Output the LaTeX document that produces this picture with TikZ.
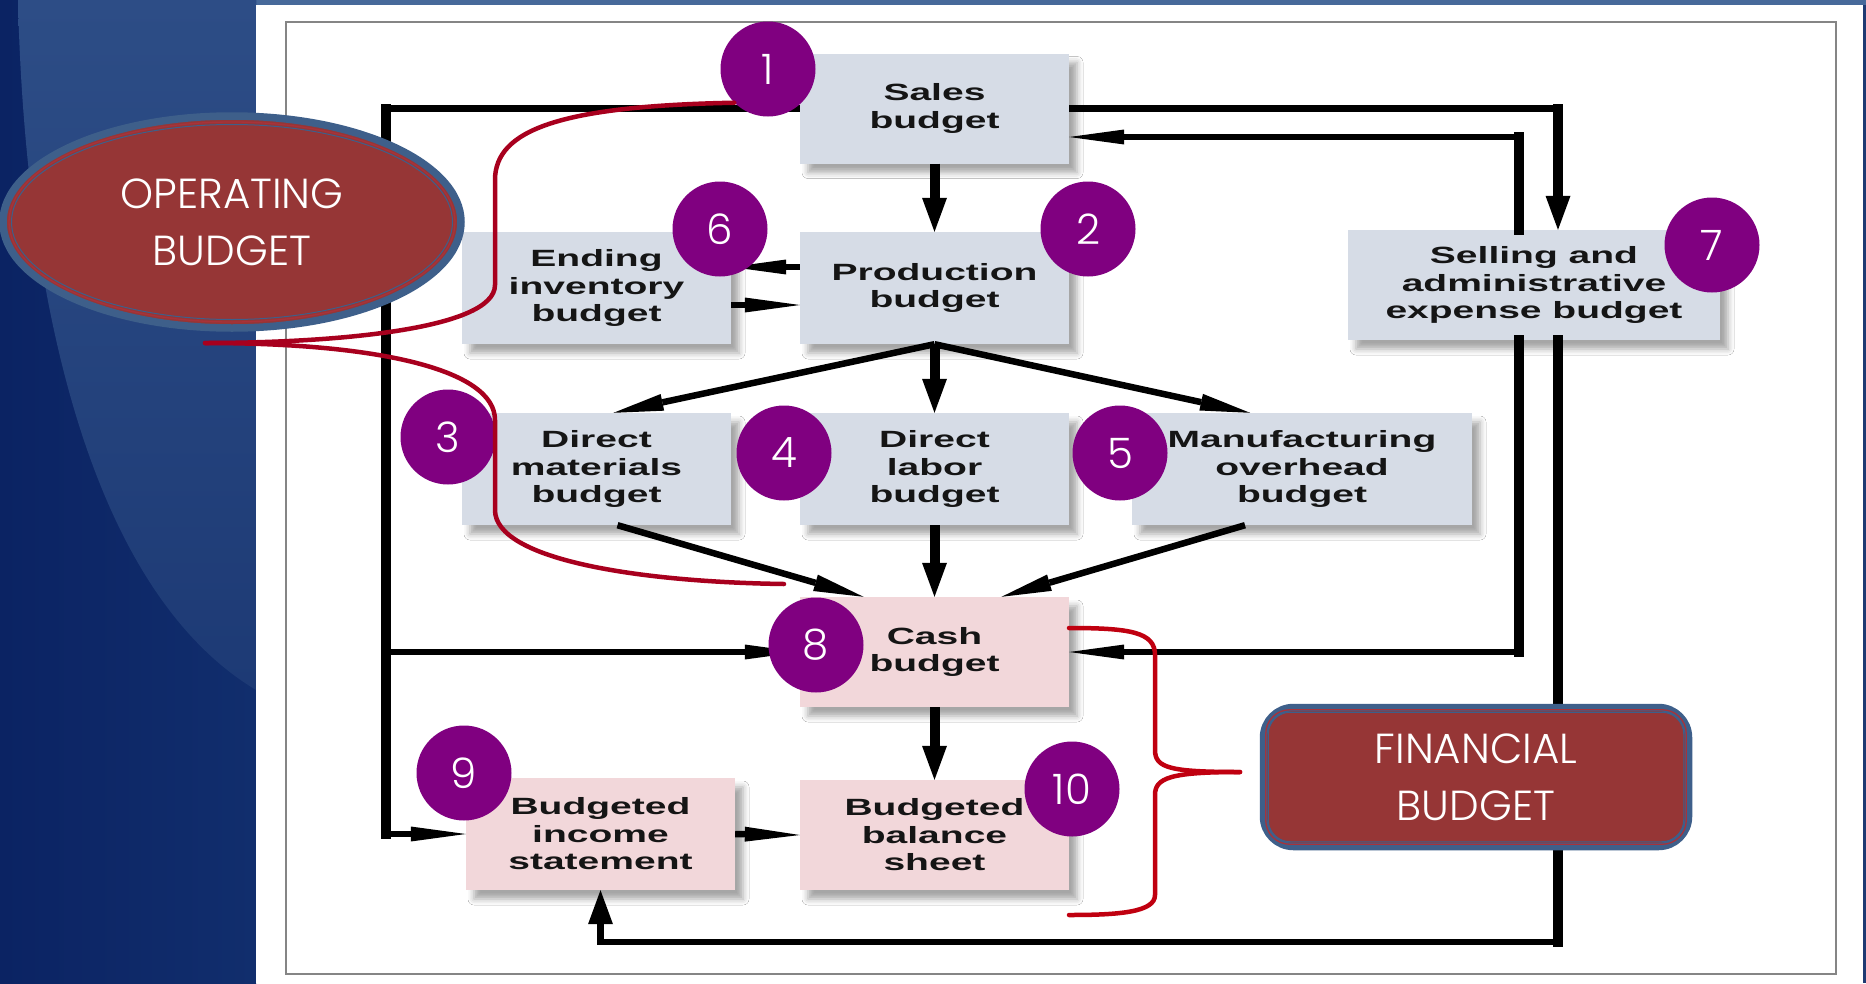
\documentclass[tikz,border=0pt]{standalone}
\usepackage{fontspec}
\usetikzlibrary{arrows.meta,shapes.geometric,shadows.blur}
\newfontfamily\boxfont[FakeStretch=1.66]{Liberation Sans}
\newfontfamily\labelfont{Poppins Light}

\definecolor{navyL}{HTML}{0B2363}
\definecolor{navyR}{HTML}{112E6D}
\definecolor{bandT}{HTML}{2D4D86}
\definecolor{bandB}{HTML}{1D3A75}
\definecolor{stripblue}{HTML}{47699A}
\definecolor{edgeblue}{HTML}{1F3A73}
\definecolor{framegray}{HTML}{858585}
\definecolor{opfill}{HTML}{D6DCE6}
\definecolor{finfill}{HTML}{F2D7DA}
\definecolor{boxtext}{HTML}{151515}
\definecolor{numpurple}{HTML}{800080}
\definecolor{tagfill}{HTML}{963636}
\definecolor{tagblue}{HTML}{3E5F8A}
\definecolor{tagred}{HTML}{A8323A}
\definecolor{bracered}{HTML}{A8001E}
\definecolor{bracered2}{HTML}{C00010}

\tikzset{
  vtip/.tip={Triangle[length=34pt,width=25pt,line width=0pt]},
  htip/.tip={Triangle[length=55pt,width=15pt,line width=0pt]},
  dtip/.tip={Triangle[length=50pt,width=17pt,line width=0pt]},
  budget/.style={rectangle, inner sep=0pt, minimum width=269pt, minimum height=110pt,
    align=center, text=boxtext,
    font={\boxfont\bfseries\fontsize{23.5}{27.5}\selectfont},
    blur shadow={shadow xshift=8pt, shadow yshift=-9pt, shadow blur radius=6pt, shadow opacity=35}},
  opbox/.style={budget, fill=opfill},
  finbox/.style={budget, fill=finfill},
  conn/.style={draw=black, line width=6.5pt},
  vconn/.style={draw=black, line width=10pt},
  vthick/.style={draw=black, line width=10pt, line cap=rect},
  numc/.style={circle, fill=numpurple, minimum size=95pt, inner sep=0pt, text=white,
    font={\labelfont\fontsize{42}{42}\selectfont}},
  tag/.style={fill=tagfill, draw=tagblue, line width=7.5pt, text=white, align=center,
    inner sep=0pt, font={\labelfont\fontsize{42}{57}\selectfont}},
  brace/.style={line width=4.5pt, line cap=round, line join=round}
}

\begin{document}
\begin{tikzpicture}[x=1pt, y=-1pt]
\useasboundingbox (0,0) rectangle (1866,983);

% slide background: blue panel on the left, white sheet with a thin frame
\fill[stripblue] (0,0) rectangle (1866,983);
\fill[edgeblue] (1863,5) rectangle (1866,983);
\shade[left color=navyL, right color=navyR] (0,0) rectangle (256,983);
\shade[top color=bandT, bottom color=bandB]
  (18,0) .. controls (25,300) and (90,590) .. (256,690) -- (256,0) -- cycle;
\fill[white] (256,5) rectangle (1863,983);
\draw[framegray, line width=1.8pt] (286,22) rectangle (1836,974);

% budget boxes
\node[opbox] (sales) at (934.5,108.5) {Sales\\budget};
\node[opbox, minimum height=112pt] (prod) at (934.5,288) {Production\\budget};
\node[opbox, minimum height=112pt] (endinv) at (596.5,288) {Ending\\inventory\\budget};
\node[opbox, minimum height=112pt] (dm) at (596.5,469) {Direct\\materials\\budget};
\node[opbox, minimum height=112pt] (dl) at (934.5,469) {Direct\\labor\\budget};
\node[opbox, minimum width=340pt, minimum height=112pt] (moh) at (1302,469) {Manufacturing\\overhead\\budget};
\node[opbox, minimum width=372pt] (sga) at (1534,285) {Selling and\\administrative\\expense budget};
\node[finbox] (cash) at (934.5,652) {Cash\\budget};
\node[finbox] (bbs) at (934.5,835) {Budgeted\\balance\\sheet};
\node[finbox, minimum height=112pt] (bis) at (600.5,834) {Budgeted\\income\\statement};

% routing columns and rows for the outer loops
\coordinate (lx) at (386,0);
\coordinate (rA) at (1519,0);
\coordinate (rC) at (1558,0);
\coordinate (bot) at (0,942);
\coordinate (sIn) at ([yshift=-28.5pt]sales.east);
\coordinate (sgaTop) at ([yshift=36pt]sga.north);

% left loop: sales budget to cash budget and income statement
\draw[conn,-htip] (sales.west) -- (sales.west -| lx) -- (bis.west -| lx) -- (bis.west);
\draw[conn,-htip] (cash.west -| lx) -- (cash.west);
\draw[vthick] (sales.west -| lx) -- (bis.west -| lx);

% right side: sales <-> selling and administrative
\draw[conn,-vtip] (sales.east) -- (sales.east -| rC) -- (sga.north -| rC);
\draw[vthick] (sales.east -| rC) -- (sgaTop -| rC);
\draw[conn,-htip] (sga.north -| rA) -- (sIn -| rA) -- (sIn);
\draw[vthick] (sga.north -| rA) -- (sIn -| rA);

% selling and administrative to cash budget and income statement
\draw[conn,-htip] (sga.south -| rA) -- (cash.east -| rA) -- (cash.east);
\draw[vthick] (sga.south -| rA) -- (cash.east -| rA);
\draw[conn,-vtip] (sga.south -| rC) -- (bot -| rC) -- (bot -| bis.south) -- (bis.south);
\draw[vthick] (sga.south -| rC) -- (bot -| rC);

% production and ending inventory
\draw[conn,-htip] ([yshift=21pt]prod.west) -- ([yshift=21pt]endinv.east);
\draw[conn,-htip] ([yshift=-17pt]endinv.east) -- ([yshift=-17pt]prod.west);

% main vertical flow
\draw[vconn,-vtip] (sales.south) -- (prod.north);
\draw[vconn,-vtip] (prod.south) -- (dl.north);
\draw[vconn,-vtip] (dl.south) -- (cash.north);
\draw[vconn,-vtip] (cash.south) -- (bbs.north);

% fan out from production, fan in to cash
\draw[conn,-dtip] (prod.south) -- ([xshift=17pt]dm.north);
\draw[conn,-dtip] (prod.south) -- ([xshift=-52pt]moh.north);
\draw[conn,-dtip] ([xshift=21pt]dm.south) -- ([xshift=-71pt]cash.north);
\draw[conn,-dtip] ([xshift=-57pt]moh.south) -- ([xshift=67pt]cash.north);

% income statement to balance sheet
\draw[conn,-htip] (bis.east) -- (bbs.west);

% step numbers
\node[numc] (n1) at (768,69) {1};
\node[numc] (n2) at (1088,229) {2};
\node[numc] (n3) at (448,437) {3};
\node[numc] (n4) at (784,453) {4};
\node[numc] (n5) at (1120,453) {5};
\node[numc] (n6) at (720,229) {6};
\node[numc] (n7) at (1712,245) {7};
\node[numc] (n8) at (816,645) {8};
\node[numc] (n9) at (464,773) {9};
\node[numc] (n10) at (1072,789) {10};

% braces grouping the two budget families
\coordinate (opTip) at (205,343);
\draw[brace, bracered] (n1.south west) .. controls (560,106) and (495,130) .. (495,180)
  -- (495,285) .. controls (495,330) and (330,343) .. (opTip);
\draw[brace, bracered] (opTip) .. controls (380,343) and (495,370) .. (495,420)
  -- (495,510) .. controls (495,560) and (640,582) .. (784,584);

\coordinate (finTip) at (1240,772);
\draw[brace, bracered2] (1069,628) .. controls (1130,628) and (1155,632) .. (1155,655)
  -- (1155,750) .. controls (1155,768) and (1170,772) .. (finTip);
\draw[brace, bracered2] (finTip) .. controls (1170,772) and (1155,778) .. (1155,795)
  -- (1155,895) .. controls (1155,912) and (1120,915) .. (1069,915);

% group labels
\node[tag, ellipse, minimum width=458pt, minimum height=212pt] (op) at (232,222) {OPERATING\\BUDGET};
\draw[tagred, line width=1.3pt] (op.center) ellipse [x radius=223pt, y radius=100pt];
\draw[tagblue, line width=1pt] (op.center) ellipse [x radius=220.5pt, y radius=97.5pt];

\node[tag, rectangle, rounded corners=30pt, minimum width=425pt, minimum height=139pt] (fin) at (1476,777) {FINANCIAL\\BUDGET};
\draw[tagred, line width=1.3pt, rounded corners=24pt]
  ([shift={(6pt,-6pt)}]fin.north west) rectangle ([shift={(-6pt,6pt)}]fin.south east);
\draw[tagblue, line width=1pt, rounded corners=22pt]
  ([shift={(8.5pt,-8.5pt)}]fin.north west) rectangle ([shift={(-8.5pt,8.5pt)}]fin.south east);
\end{tikzpicture}
\end{document}
